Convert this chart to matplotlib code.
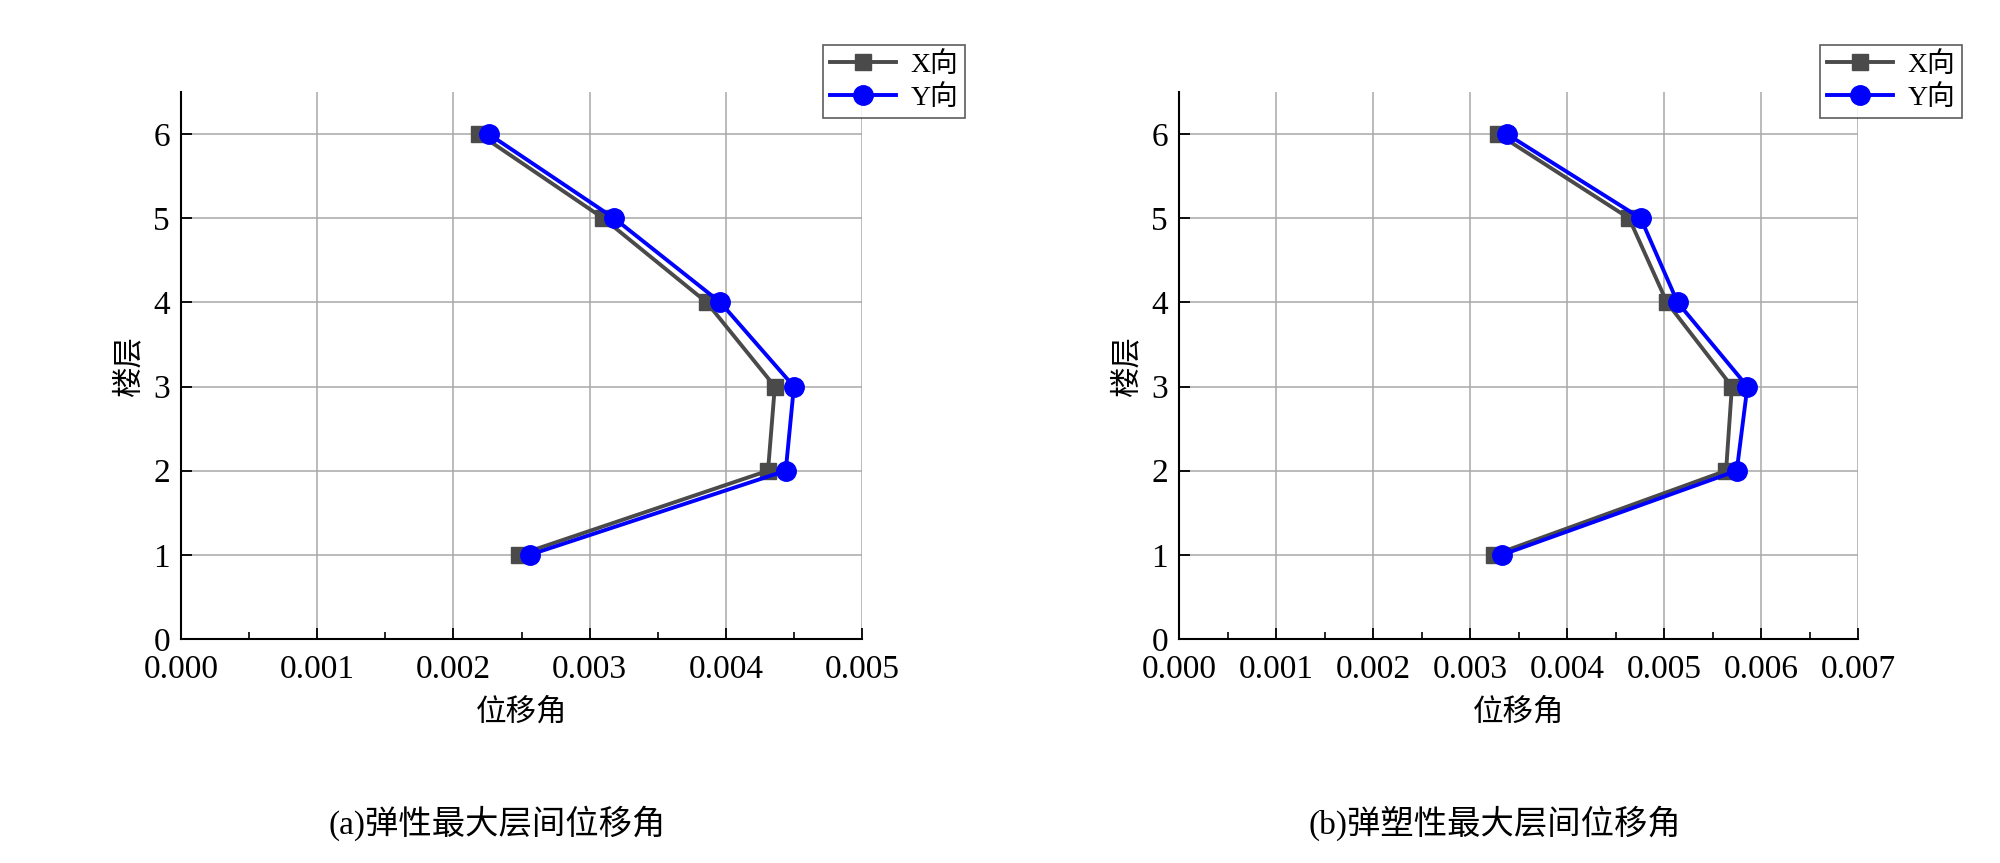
import matplotlib
matplotlib.use("Agg")
import matplotlib.pyplot as plt
from matplotlib.ticker import MultipleLocator, FormatStrFormatter

plt.rcParams['font.family'] = ['Liberation Serif', 'Noto Sans CJK SC', 'DejaVu Sans']

floors = [1, 2, 3, 4, 5, 6]

# (a) elastic
elastic_x = [0.00248, 0.00431, 0.00436, 0.00386, 0.00310, 0.00219]
elastic_y = [0.00256, 0.00444, 0.00450, 0.00396, 0.00318, 0.00226]

# (b) elasto-plastic
plastic_x = [0.00325, 0.00564, 0.00570, 0.00503, 0.00464, 0.00329]
plastic_y = [0.00333, 0.00575, 0.00586, 0.00514, 0.00476, 0.00338]

xmax = [0.005, 0.007]
captions = ["(a)弹性最大层间位移角", "(b)弹塑性最大层间位移角"]
series_names = ["X向", "Y向"]

GRAY = "#4a4a4a"
BLUE = "#0000ff"

fig = plt.figure(figsize=(20, 8.63), dpi=100)
W, H = 2000, 863
boxes = [(181, 862), (1179, 1858)]
legend_right = [965, 1962]
top, bottom = 92, 639

panels = [(elastic_x, elastic_y), (plastic_x, plastic_y)]

for i, ((xs, ys), (x0, x1)) in enumerate(zip(panels, boxes)):
    ax = fig.add_axes([x0 / W, 1 - bottom / H, (x1 - x0) / W, (bottom - top) / H])
    ax.plot(xs, floors, color=GRAY, lw=2.8, marker="s", ms=11, label=series_names[0])
    ax.plot(ys, floors, color=BLUE, lw=2.8, marker="o", ms=14, label=series_names[1])

    ax.set_xlim(0, xmax[i])
    ax.set_ylim(0, 6.5)
    ax.xaxis.set_major_locator(MultipleLocator(0.001))
    ax.xaxis.set_minor_locator(MultipleLocator(0.0005))
    ax.xaxis.set_major_formatter(FormatStrFormatter("%.3f"))
    ax.yaxis.set_major_locator(MultipleLocator(1))

    ax.grid(True, which="major", color="#a8a8a8", lw=1.1)
    ax.set_axisbelow(True)
    for s in ["top", "right"]:
        ax.spines[s].set_visible(False)
    for s in ["left", "bottom"]:
        ax.spines[s].set_linewidth(1.5)

    ax.tick_params(axis="both", which="major", direction="in", length=8, width=1.3,
                   labelsize=24)
    ax.tick_params(axis="x", which="major", pad=11)
    ax.tick_params(axis="y", which="major", pad=8)
    ax.tick_params(axis="x", which="minor", direction="in", length=5, width=1.2)
    ax.tick_params(axis="y", which="minor", left=False)

    ax.set_xlabel("位移角", fontsize=22, labelpad=10)
    ax.set_ylabel("楼层", fontsize=22, labelpad=6)

    leg = ax.legend(loc="upper right", bbox_to_anchor=(legend_right[i] / W, 1 - 45 / H),
                    bbox_transform=fig.transFigure, fontsize=20, frameon=True, fancybox=False,
                    edgecolor="#333333", handlelength=2.4, borderpad=0.25, labelspacing=0.25,
                    handletextpad=0.5, borderaxespad=0)
    leg.get_frame().set_linewidth(1.2)

    fig.text(((x0 + x1) / 2 - 24) / W, 1 - 823 / H, captions[i], fontsize=24,
             ha="center", va="center")

fig.savefig("out.png", dpi=100)
